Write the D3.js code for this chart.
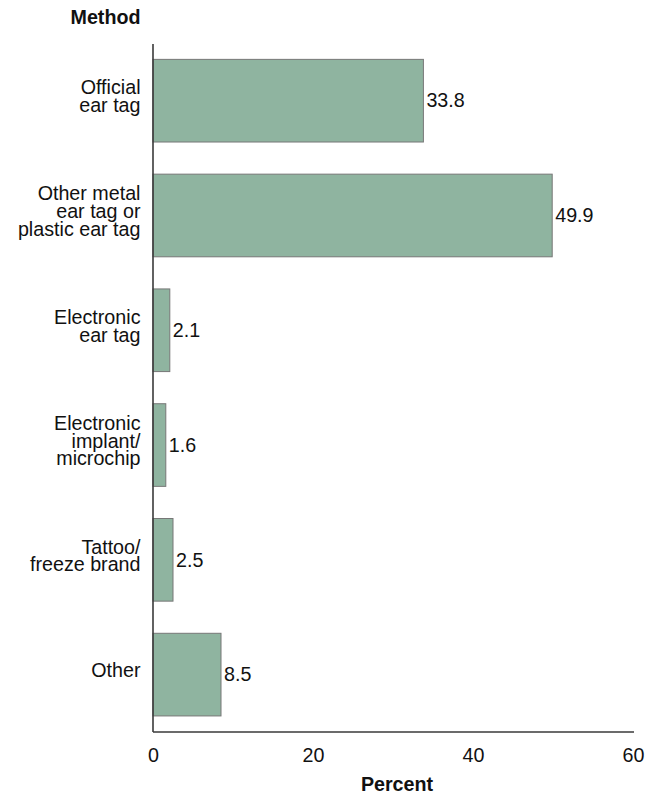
<!DOCTYPE html>
<html>
<head>
<meta charset="utf-8">
<script src="https://cdn.jsdelivr.net/npm/d3@7"></script>
<style>
  html, body { margin: 0; padding: 0; background: #fff; }
  text { font-family: "Liberation Sans", Arial, sans-serif; fill: #111; }
</style>
</head>
<body>
<svg id="chart" width="658" height="796"></svg>
<script>
const categories = [
  ["Official", "ear tag"],
  ["Other metal", "ear tag or", "plastic ear tag"],
  ["Electronic", "ear tag"],
  ["Electronic", "implant/", "microchip"],
  ["Tattoo/", "freeze brand"],
  ["Other"]
];
const values = [33.8, 49.9, 2.1, 1.6, 2.5, 8.5];
const xTicks = [0, 20, 40, 60];
const yTitle = "Method";
const xTitle = "Percent";

(function () {
const svg = d3.select("#chart");
const fontSize = 19.7;
const mLeft = 153, mRight = 633, mTop = 43.3, mBottom = 732;

const keys = categories.map((c, i) => i);
const x = d3.scaleLinear().domain([0, 60]).range([mLeft, mRight]);
const y = d3.scaleBand().domain(keys).range([mTop, mBottom]).paddingInner(0.28).paddingOuter(0.14);

// bars
svg.append("g").selectAll("rect").data(values).join("rect")
  .attr("x", x(0))
  .attr("y", (d, i) => y(i))
  .attr("width", d => x(d) - x(0))
  .attr("height", y.bandwidth())
  .attr("fill", "#8fb4a0")
  .attr("stroke", "#777")
  .attr("stroke-width", 1);

// value labels
svg.append("g").selectAll("text").data(values).join("text")
  .attr("x", d => x(d) + 3)
  .attr("y", (d, i) => y(i) + y.bandwidth() / 2 + 6.7)
  .attr("font-size", fontSize)
  .text(d => d.toFixed(1));

// category labels
const lh = 17.6;
const catG = svg.append("g");
categories.forEach((lines, i) => {
  const cy = y(i) + y.bandwidth() / 2;
  const t = catG.append("text")
    .attr("text-anchor", "end")
    .attr("font-size", fontSize);
  lines.forEach((ln, j) => {
    t.append("tspan")
      .attr("x", 140.5)
      .attr("y", cy + 2.5 + (j - (lines.length - 1) / 2) * lh)
      .text(ln);
  });
});

// axes lines
svg.append("line")
  .attr("x1", x(0)).attr("x2", x(0))
  .attr("y1", 44).attr("y2", mBottom)
  .attr("stroke", "#3a3a3a").attr("stroke-width", 1.6);
svg.append("line")
  .attr("x1", x(0)).attr("x2", x(60) + 1)
  .attr("y1", mBottom).attr("y2", mBottom)
  .attr("stroke", "#3a3a3a").attr("stroke-width", 1.6);

// x-axis tick labels via d3 axis
const xAxis = d3.axisBottom(x).tickValues(xTicks).tickSize(0).tickPadding(0).tickFormat(d3.format("d"));
const gx = svg.append("g").attr("transform", `translate(0,${mBottom})`).call(xAxis);
gx.select(".domain").remove();
gx.selectAll("text")
  .attr("font-size", fontSize)
  .attr("font-family", "Liberation Sans, Arial, sans-serif")
  .attr("fill", "#111")
  .attr("dy", null)
  .attr("y", 30);

// titles
svg.append("text")
  .attr("x", 140.5).attr("y", 24)
  .attr("text-anchor", "end")
  .attr("font-size", fontSize)
  .attr("font-weight", "bold")
  .text(yTitle);
svg.append("text")
  .attr("x", (mLeft + mRight) / 2 + 4).attr("y", 791)
  .attr("text-anchor", "middle")
  .attr("font-size", fontSize)
  .attr("font-weight", "bold")
  .text(xTitle);
})();
</script>
</body>
</html>
